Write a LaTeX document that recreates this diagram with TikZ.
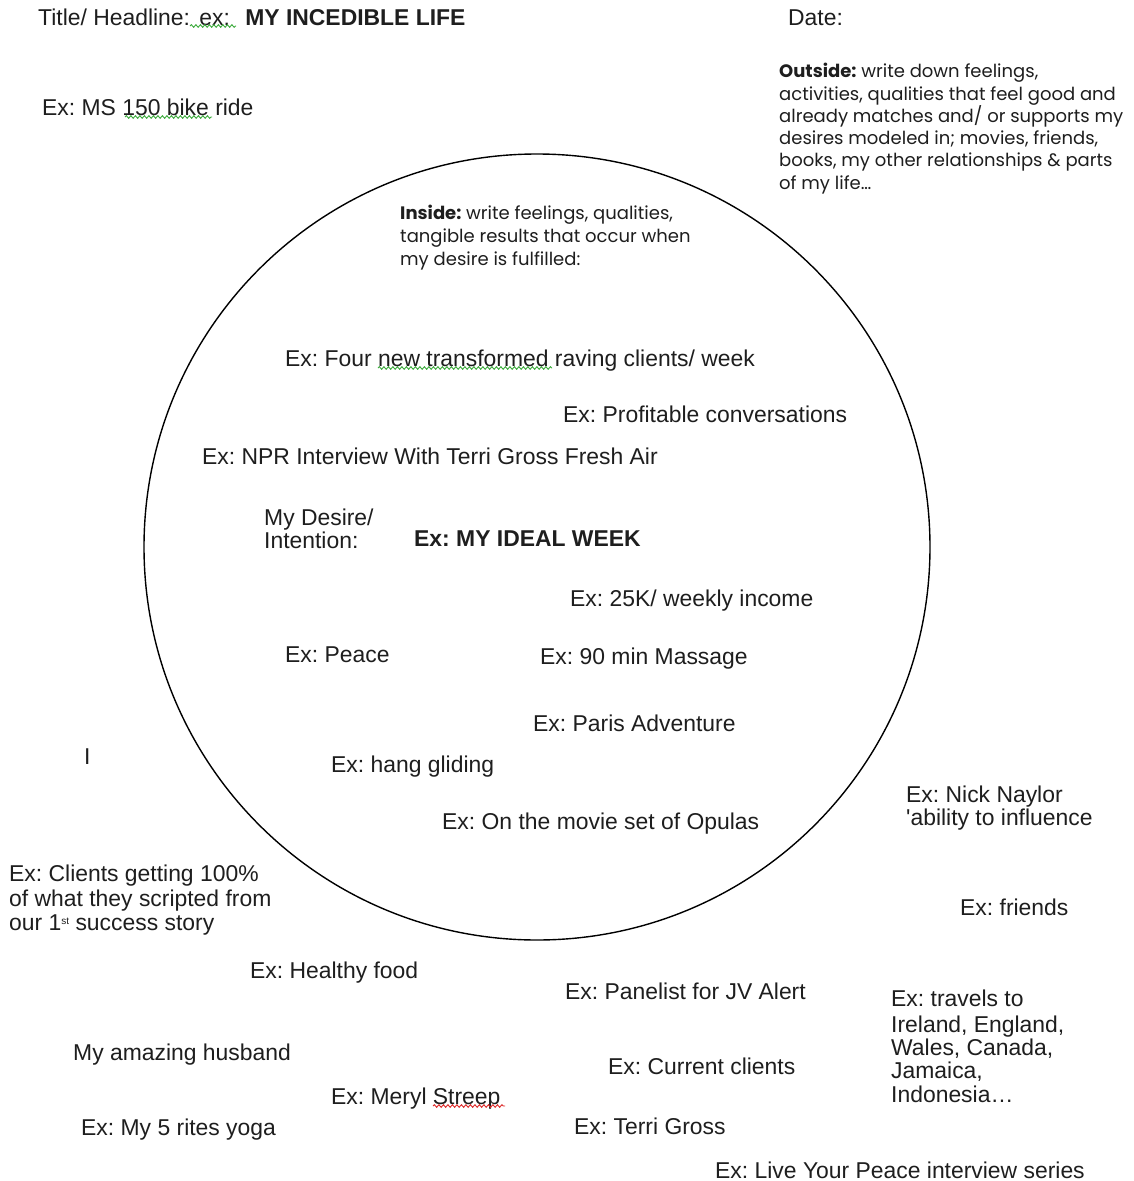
\documentclass[tikz,border=0pt]{standalone}
\usepackage{fontspec}
\setmainfont{Liberation Sans}
\newfontfamily\geofont{Poppins}
\usetikzlibrary{decorations.pathmorphing}
\definecolor{ink}{RGB}{30,30,30}
\definecolor{spellgreen}{RGB}{60,170,60}
\definecolor{spellred}{RGB}{220,40,40}
\frenchspacing
\begin{document}
\begin{tikzpicture}[x=1pt,y=-1pt,
  txt/.style={anchor=base west,inner sep=0pt,text=ink,font=\frenchspacing\fontsize{22.9}{26}\selectfont},
  geo/.style={anchor=base west,inner sep=0pt,text=ink,font=\frenchspacing\geofont\fontsize{18}{21}\selectfont},
  squiggle/.style={decorate,decoration={snake,amplitude=1.3pt,segment length=4.5pt},line width=0.9pt}]
\useasboundingbox (0,0) rectangle (1134,1181);
\fill[white] (0,0) rectangle (1134,1181);
% circle
\node[draw=black,line width=1.4pt,circle,minimum size=786pt,inner sep=0pt] (ring) at (537,547) {};
% header
\node[txt] (title) at (38,25) {Title/ Headline:\hspace{3pt} ex:\hspace{9pt} \textbf{MY INCEDIBLE LIFE}};
\node[txt] (date) at (788,25) {Date:};
\node[txt] (ms) at (42,115) {Ex: MS 150 bike ride};
% outside instructions
\node[geo] (out1) at (779,77) {\textbf{Outside:} write down feelings,};
\node[geo] (out2) at (779,100) {activities, qualities that feel good and};
\node[geo] (out3) at (779,122) {already matches and/ or supports my};
\node[geo] (out4) at (779,144) {desires modeled in; movies, friends,};
\node[geo] (out5) at (779,166) {books, my other relationships \& parts};
\node[geo] (out6) at (779,189) {of my life\dots};
% inside instructions
\node[geo] (in1) at (400,219) {\textbf{Inside:} write feelings, qualities,};
\node[geo] (in2) at (400,242) {tangible results that occur when};
\node[geo] (in3) at (400,265) {my desire is fulfilled:};
% inside items
\node[txt] (four) at (285,366) {Ex: Four new transformed raving clients/ week};
\node[txt] (profit) at (563,422) {Ex: Profitable conversations};
\node[txt] (npr) at (202,464) {Ex: NPR Interview With Terri Gross Fresh Air};
\node[txt] (des1) at (264,525) {My Desire/};
\node[txt] (des2) at (264,548) {Intention:};
\node[txt] (ideal) at (414,546) {\textbf{Ex: MY IDEAL WEEK}};
\node[txt] (k25) at (570,606) {Ex: 25K/ weekly income};
\node[txt] (peace) at (285,662) {Ex: Peace};
\node[txt] (massage) at (540,664) {Ex: 90 min Massage};
\node[txt] (paris) at (533,731) {Ex: Paris Adventure};
\node[txt] (hang) at (331,772) {Ex: hang gliding};
\node[txt] (movie) at (442,829) {Ex: On the movie set of Opulas};
% stray cursor mark
\node[txt] (cursor) at (84,764) {I};
% outside items
\node[txt] (nick1) at (906,802) {Ex: Nick Naylor};
\node[txt] (nick2) at (906,825) {\textquotesingle ability to influence};
\node[txt] (cl1) at (9,881) {Ex: Clients getting 100\%};
\node[txt] (cl2) at (9,906) {of what they scripted from};
\node[txt] (cl3) at (9,930) {our 1\raisebox{6pt}{\fontsize{10}{10}\selectfont st} success story};
\node[txt] (friends) at (960,915) {Ex: friends};
\node[txt] (healthy) at (250,978) {Ex: Healthy food};
\node[txt] (panel) at (565,999) {Ex: Panelist for JV Alert};
\node[txt] (tr1) at (891,1006) {Ex: travels to};
\node[txt] (tr2) at (891,1032) {Ireland, England,};
\node[txt] (tr3) at (891,1055) {Wales, Canada,};
\node[txt] (tr4) at (891,1078) {Jamaica,};
\node[txt] (tr5) at (891,1102) {Indonesia\dots};
\node[txt] (husband) at (73,1060) {My amazing husband};
\node[txt] (current) at (608,1074) {Ex: Current clients};
\node[txt] (meryl) at (331,1104) {Ex: Meryl Streep};
\node[txt] (yoga) at (81,1135) {Ex: My 5 rites yoga};
\node[txt] (terri) at (574,1134) {Ex: Terri Gross};
\node[txt] (live) at (715,1178) {Ex: Live Your Peace interview series};
% spell-check squiggles
\draw[squiggle,spellgreen] (190,26) -- (236,26);
\draw[squiggle,spellgreen] (125,117) -- (212,117);
\draw[squiggle,spellgreen] (378,368) -- (552,368);
\draw[squiggle,spellred] (433,1106) -- (505,1106);
\end{tikzpicture}
\end{document}
